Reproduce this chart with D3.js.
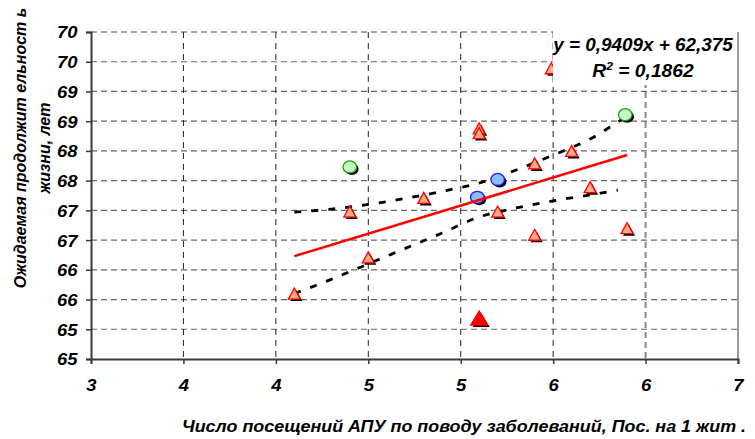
<!DOCTYPE html>
<html>
<head>
<meta charset="utf-8">
<script src="https://cdn.jsdelivr.net/npm/d3@7"></script>
<style>
  body { margin: 0; background: #fff; }
  svg text { font-family: "Liberation Sans", Arial, sans-serif; font-weight: bold; font-style: italic; fill: #000; }
</style>
</head>
<body>
<div id="chart"></div>
<script>
// values
const xTicks = [3, 3.5, 4, 4.5, 5, 5.5, 6, 6.5];
const xTickLabels = ['3', '4', '4', '5', '5', '6', '6', '7'];
const yTicks = [64.5, 65, 65.5, 66, 66.5, 67, 67.5, 68, 68.5, 69, 69.5, 70];
const yTickLabels = ['65', '65', '66', '66', '67', '67', '68', '68', '69', '69', '70', '70'];

const triangles = [
    [4.10, 65.60], [4.40, 66.98], [4.50, 66.21], [4.80, 67.21],
    [5.10, 68.38], [5.10, 68.30], [5.20, 66.98], [5.40, 67.79],
    [5.60, 68.00], [5.70, 67.39], [5.40, 66.59], [5.90, 66.70],
    [5.49, 69.39]
];
const redTriangles = [[5.10, 65.19]];
const blueCircles = [[5.09, 67.22], [5.20, 67.52]];
const greenCircles = [[4.40, 67.73], [5.89, 68.61]];

const trend = [[4.1, 66.23], [5.9, 67.93]];
const upperBand = [[4.1, 66.97], [4.3, 67.02], [4.5, 67.10], [4.7, 67.20], [4.9, 67.32],
    [5.1, 67.46], [5.3, 67.68], [5.5, 67.93], [5.7, 68.20], [5.9, 68.59]];
const lowerBand = [[4.1, 65.60], [4.3, 65.84], [4.5, 66.10], [4.7, 66.36], [4.9, 66.62],
    [5.1, 66.89], [5.3, 67.04], [5.5, 67.16], [5.7, 67.26], [5.85, 67.34]];

const equation = 'y = 0,9409x + 62,375';
const rSquared = '0,1862';
const xTitle = 'Число посещений АПУ по поводу заболеваний, Пос. на 1 жит .';
const yTitle = ['Ожидаемая продолжит ельност ь', 'жизни, лет'];

const width = 755, height = 439;
const plotLeft = 91, plotRight = 738, plotTop = 32, plotBottom = 359;

const svg = d3.select('#chart').append('svg')
    .attr('width', width)
    .attr('height', height);

const x = d3.scaleLinear().domain([3, 6.5]).range([plotLeft, plotRight]);
const y = d3.scaleLinear().domain([64.5, 70]).range([plotBottom, plotTop]);

// grid
const grid = svg.append('g');
grid.selectAll('line.h')
    .data(yTicks.slice(1))
    .enter().append('line')
    .attr('x1', plotLeft).attr('x2', plotRight)
    .attr('y1', d => y(d)).attr('y2', d => y(d))
    .attr('stroke', d => d === 70 ? '#888' : '#666')
    .attr('stroke-width', d => d === 70 ? 1.5 : 1.2)
    .attr('stroke-dasharray', '6,4');
grid.selectAll('line.v')
    .data(xTicks.slice(1))
    .enter().append('line')
    .attr('x1', d => x(d)).attr('x2', d => x(d))
    .attr('y1', plotTop).attr('y2', plotBottom)
    .attr('stroke', d => d === 6.5 ? '#999' : (d === 6 ? '#888' : '#222'))
    .attr('stroke-width', d => d >= 6 ? 2 : 1)
    .attr('stroke-dasharray', d => d === 6.5 ? null : (d === 6 ? '6,4' : '6,5'));

// axes
const xAxis = svg.append('g')
    .attr('transform', `translate(0,${plotBottom})`)
    .call(d3.axisBottom(x).tickValues(xTicks).tickFormat((d, i) => xTickLabels[i]).tickSize(5).tickPadding(15));
const yAxis = svg.append('g')
    .attr('transform', `translate(${plotLeft},0)`)
    .call(d3.axisLeft(y).tickValues(yTicks).tickFormat((d, i) => yTickLabels[i]).tickSize(5).tickPadding(7));

[xAxis, yAxis].forEach(a => {
    a.select('.domain').attr('stroke', '#3a3a3a').attr('stroke-width', 2);
    a.selectAll('.tick line').attr('stroke', '#3a3a3a').attr('stroke-width', 1.5);
    a.selectAll('.tick text')
        .style('font-family', '"Liberation Sans", Arial, sans-serif')
        .style('font-size', '16.5px')
        .style('font-weight', 'bold')
        .style('font-style', 'italic')
        .attr('fill', '#000')
        .attr('transform', 'scale(1.12,1)');
});
yAxis.selectAll('.tick text').attr('dy', '0.36em');

// confidence band
const line = d3.line().x(d => x(d[0])).y(d => y(d[1])).curve(d3.curveCatmullRom);
[upperBand, lowerBand].forEach(band => {
    svg.append('path')
        .attr('d', line(band))
        .attr('fill', 'none')
        .attr('stroke', '#000')
        .attr('stroke-width', 2.8)
        .attr('stroke-dasharray', '7,10');
});

// markers
function tri(w, h) {
    return `M0,${-h / 2}L${w / 2},${h / 2}L${-w / 2},${h / 2}Z`;
}
function drawTriangles(data, w, h, fill, stroke) {
    const g = svg.append('g');
    g.selectAll('path.shadow').data(data).enter().append('path')
        .attr('d', tri(w, h))
        .attr('transform', d => `translate(${x(d[0]) + 2},${y(d[1]) + 2})`)
        .attr('fill', '#000');
    g.selectAll('path.mark').data(data).enter().append('path')
        .attr('d', tri(w, h))
        .attr('transform', d => `translate(${x(d[0])},${y(d[1])})`)
        .attr('fill', fill)
        .attr('stroke', stroke)
        .attr('stroke-width', 1.3);
}
function drawCircles(data, fill, stroke) {
    const g = svg.append('g');
    g.selectAll('ellipse.shadow').data(data).enter().append('ellipse')
        .attr('cx', d => x(d[0]) + 2).attr('cy', d => y(d[1]) + 2)
        .attr('rx', 6.8).attr('ry', 6)
        .attr('fill', '#000');
    g.selectAll('ellipse.mark').data(data).enter().append('ellipse')
        .attr('cx', d => x(d[0])).attr('cy', d => y(d[1]))
        .attr('rx', 6.8).attr('ry', 6)
        .attr('fill', fill)
        .attr('stroke', stroke)
        .attr('stroke-width', 1.3);
}

drawTriangles(triangles, 12, 11, '#ffac86', '#ff0000');
drawTriangles(redTriangles, 17, 14, '#ff0000', '#ff0000');
drawCircles(greenCircles, '#c8f8c8', '#10a010');
drawCircles(blueCircles, '#8ebcf8', '#1a1aff');

// regression line
svg.append('path')
    .attr('d', d3.line().x(d => x(d[0])).y(d => y(d[1]))(trend))
    .attr('fill', 'none')
    .attr('stroke', '#ff0000')
    .attr('stroke-width', 2.5);

// equation label
svg.append('rect')
    .attr('x', 553).attr('y', 29)
    .attr('width', 184).attr('height', 56)
    .attr('fill', '#fff');
svg.append('text')
    .attr('transform', 'translate(643,51) scale(1.08,1)')
    .attr('text-anchor', 'middle')
    .style('font-size', '17.5px')
    .text(equation);
const r2 = svg.append('text')
    .attr('transform', 'translate(643,77) scale(1.1,1)')
    .attr('text-anchor', 'middle')
    .style('font-size', '17.5px');
r2.append('tspan').text('R');
r2.append('tspan').attr('dy', -7).style('font-size', '11px').text('2');
r2.append('tspan').attr('dy', 7).text(' = ' + rSquared);

// axis titles
svg.append('text')
    .attr('transform', 'translate(464,432) scale(1.12,1)')
    .attr('text-anchor', 'middle')
    .style('font-size', '16px')
    .text(xTitle);

svg.selectAll('text.ytitle')
    .data(yTitle)
    .enter().append('text')
    .attr('transform', (d, i) => `translate(${i === 0 ? 26 : 50},148) rotate(-90)`)
    .attr('text-anchor', 'middle')
    .style('font-size', '16px')
    .text(d => d);
</script>
</body>
</html>
